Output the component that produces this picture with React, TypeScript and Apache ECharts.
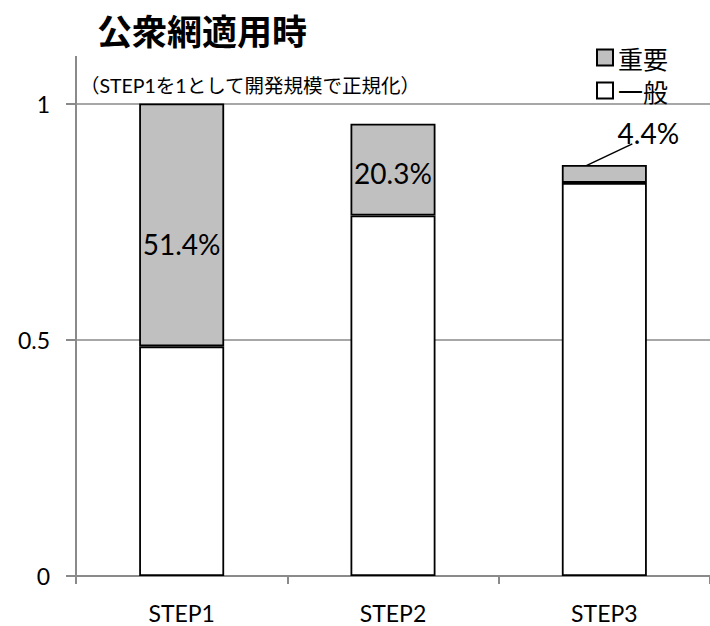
import React, { useEffect, useRef } from "react";
import * as echarts from "echarts";

const categories = ["STEP1", "STEP2", "STEP3"];
const generalValues = [0.486, 0.763, 0.832];
const importantValues = [0.514, 0.194, 0.038];
const importantLabels = ["51.4%", "20.3%", "4.4%"];
const yTicks = [0, 0.5, 1];

const LATIN = "Lato, 'Noto Sans CJK JP', sans-serif";
const CJK = "'Noto Sans CJK JP', sans-serif";
const GRID_COLOR = "#8a8a8a";

export default function App() {
  const ref = useRef<HTMLDivElement>(null);
  useEffect(() => {
    if (!ref.current) return;
    const chart = echarts.init(ref.current, null, { renderer: "svg" });
    const labelShift = [
      { dx: 0, dy: 19 },
      { dx: 0, dy: 3 },
      { dx: 44, dy: -41 },
    ];
    chart.setOption({
      animation: false,
      backgroundColor: "#fff",
      grid: { left: 76, right: -8, top: 103.5, bottom: 50, containLabel: false },
      legend: {
        data: ["重要", "一般"],
        orient: "vertical",
        left: 591,
        top: 40,
        itemWidth: 16,
        itemHeight: 16,
        itemGap: 8,
        icon: "rect",
        textStyle: { fontSize: 25, fontFamily: CJK, color: "#000", lineHeight: 25 },
      },
      xAxis: {
        type: "category",
        data: categories,
        axisLine: { lineStyle: { color: GRID_COLOR, width: 2 } },
        axisTick: { show: true, length: 8, lineStyle: { color: GRID_COLOR, width: 2 } },
        axisLabel: { fontSize: 23, fontFamily: LATIN, color: "#000", margin: 25 },
      },
      yAxis: {
        type: "value",
        min: yTicks[0],
        max: yTicks[yTicks.length - 1],
        interval: yTicks[1] - yTicks[0],
        axisLine: { show: true, lineStyle: { color: GRID_COLOR, width: 2 } },
        axisTick: { show: true, length: 10, lineStyle: { color: GRID_COLOR, width: 2 } },
        splitLine: { show: true, lineStyle: { color: GRID_COLOR, width: 1.5 } },
        axisLabel: {
          fontSize: 23,
          fontFamily: LATIN,
          color: "#000",
          margin: 26,
          formatter: (v: number) => String(v),
        },
      },
      series: [
        {
          name: "一般",
          type: "bar",
          stack: "total",
          barWidth: 85,
          data: generalValues,
          itemStyle: { color: "#ffffff", borderColor: "#000", borderWidth: 1.8 },
        },
        {
          name: "重要",
          type: "bar",
          stack: "total",
          barWidth: 85,
          data: importantValues,
          itemStyle: { color: "#c0c0c0", borderColor: "#000", borderWidth: 1.8 },
          label: {
            show: true,
            position: "inside",
            fontSize: 28,
            fontFamily: LATIN,
            color: "#000",
            formatter: (p: any) => importantLabels[p.dataIndex],
          },
          labelLayout: (p: any) => labelShift[p.dataIndex] || {},
        },
      ],
      graphic: [
        {
          type: "text",
          left: 97,
          top: 12,
          style: {
            text: "公衆網適用時",
            fontSize: 35,
            fontWeight: "bold",
            fontFamily: CJK,
            fill: "#000",
          },
        },
        {
          type: "text",
          left: 80,
          top: 76,
          style: {
            text: "（STEP1を1として開発規模で正規化）",
            fontSize: 19.5,
            fontFamily: LATIN,
            fill: "#000",
          },
        },
        {
          type: "line",
          shape: { x1: 76, y1: 56, x2: 76, y2: 104 },
          style: { stroke: GRID_COLOR, lineWidth: 2 },
        },
      ],
    });
    // leader line for the small STEP3 label, anchored via the chart's own scales
    const idx = 2;
    const mid = generalValues[idx] + importantValues[idx] / 2;
    const p = chart.convertToPixel({ gridIndex: 0 }, [idx, mid]) as number[];
    if (p && isFinite(p[0]) && isFinite(p[1])) {
      chart.setOption({
        graphic: [
          {},
          {},
          {},
          {
            type: "line",
            shape: { x1: p[0] - 27, y1: p[1] - 4, x2: p[0] + 28, y2: p[1] - 30 },
            style: { stroke: "#000", lineWidth: 1.5 },
          },
        ],
      });
    }
    return () => chart.dispose();
  }, []);
  return (
    <div
      ref={ref}
      style={{ position: "fixed", left: 0, top: 0, width: 710, height: 626 }}
    />
  );
}
